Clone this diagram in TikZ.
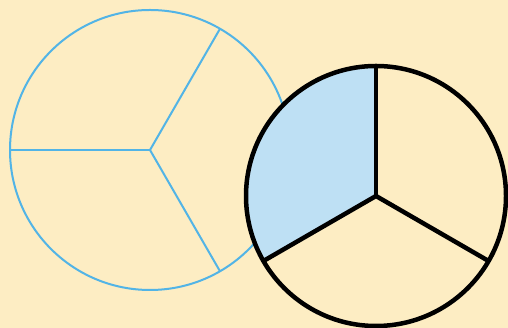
\documentclass[tikz,border=0pt]{standalone}
\begin{document}
\begin{tikzpicture}[x=1pt,y=1pt,
  blueline/.style={draw=lineblue,line width=2pt},
  blackline/.style={draw=black,line width=4.5pt}]
\definecolor{bg}{HTML}{FDEDC3}
\definecolor{lineblue}{HTML}{52B4E6}
\definecolor{fillblue}{HTML}{BEE0F4}
\fill[bg] (0,0) rectangle (508,328);
\useasboundingbox (0,0) rectangle (508,328);
% left circle
\coordinate (lc) at (150,178);
\draw[blueline] (lc) circle[radius=140];
\draw[blueline] (lc) -- ++(180:140);
\draw[blueline] (lc) -- ++(60:140);
\draw[blueline] (lc) -- ++(-60:140);
% right circle
\coordinate (rc) at (376,132);
\fill[bg] (rc) circle[radius=130];
\fill[fillblue] (rc) -- ++(90:130) arc[start angle=90,end angle=210,radius=130] -- cycle;
\draw[blackline] (rc) circle[radius=130];
\draw[blackline,line join=round] (rc) -- ++(90:130);
\draw[blackline] (rc) -- ++(210:130);
\draw[blackline] (rc) -- ++(330:130);
\end{tikzpicture}
\end{document}
